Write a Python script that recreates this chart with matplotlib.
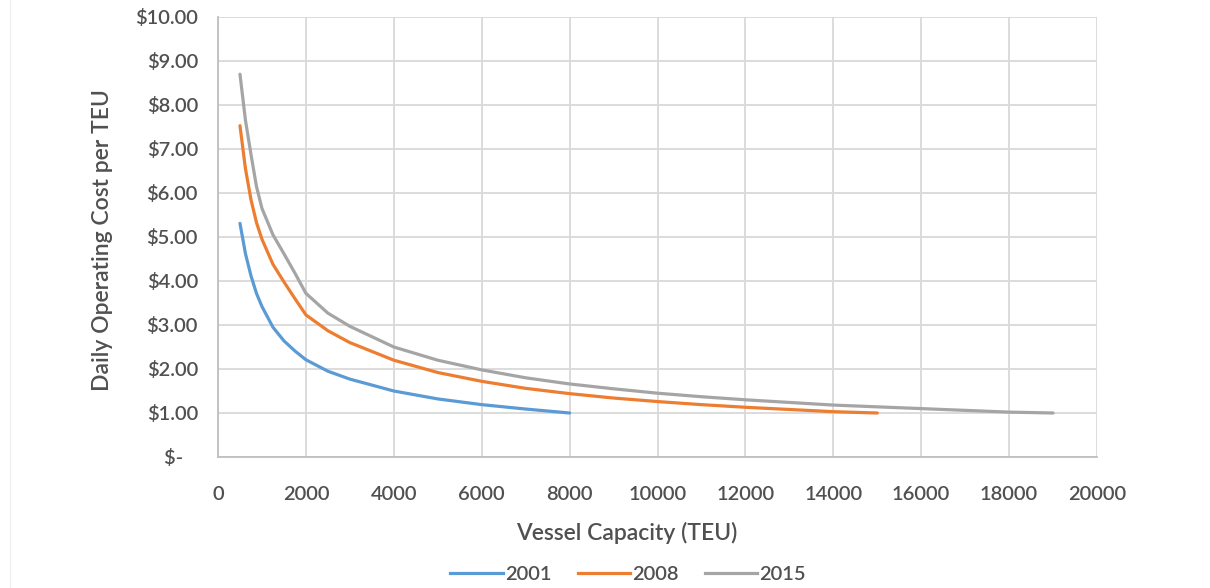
import matplotlib
matplotlib.use("Agg")
import matplotlib.pyplot as plt
from matplotlib.ticker import FuncFormatter, MultipleLocator
from matplotlib.lines import Line2D

# Vessel capacity (TEU) and daily operating cost per TEU (USD)
teu_2001 = [500, 625, 750, 875, 1000, 1250, 1500, 1750, 2000, 2500, 3000, 4000,
            5000, 6000, 7000, 8000]
cost_2001 = [5.31, 4.62, 4.12, 3.72, 3.42, 2.95, 2.64, 2.41, 2.21, 1.95, 1.77, 1.50,
             1.32, 1.19, 1.09, 1.00]

teu_2008 = [500, 625, 750, 875, 1000, 1250, 1500, 1750, 2000, 2500, 3000, 4000,
            5000, 6000, 7000, 8000, 9000, 10000, 11000, 12000, 13000, 14000, 15000]
cost_2008 = [7.53, 6.55, 5.85, 5.33, 4.95, 4.38, 3.98, 3.60, 3.23, 2.87, 2.60, 2.20,
             1.92, 1.72, 1.56, 1.44, 1.34, 1.26, 1.19, 1.13, 1.08, 1.03, 1.00]

teu_2015 = [500, 625, 750, 875, 1000, 1250, 1500, 1750, 2000, 2500, 3000, 4000,
            5000, 6000, 7000, 8000, 9000, 10000, 11000, 12000, 13000, 14000, 15000,
            16000, 17000, 18000, 19000]
cost_2015 = [8.70, 7.65, 6.88, 6.15, 5.65, 5.05, 4.62, 4.18, 3.72, 3.27, 2.97, 2.50,
             2.20, 1.98, 1.80, 1.66, 1.55, 1.45, 1.37, 1.30, 1.24, 1.18, 1.14,
             1.10, 1.06, 1.02, 1.00]

series_labels = ["2001", "2008", "2015"]
series_colors = ["#5B9BD5", "#ED7D31", "#A5A5A5"]

text_color = "#505050"
grid_color = "#D9D9D9"

plt.rcParams["font.family"] = ["Lato", "DejaVu Sans"]
plt.rcParams["font.weight"] = "semibold"

fig = plt.figure(figsize=(12.10, 5.88), dpi=100)
ax = fig.add_axes([218 / 1210, 1 - 457 / 588, (1097 - 218) / 1210, (457 - 17) / 588])

for x, y, lab, col in zip([teu_2001, teu_2008, teu_2015],
                          [cost_2001, cost_2008, cost_2015],
                          series_labels, series_colors):
    ax.plot(x, y, color=col, lw=2.3, label=lab, solid_capstyle="round",
            solid_joinstyle="round", zorder=3)

ax.set_xlim(0, 20000)
ax.set_ylim(0, 10)
ax.xaxis.set_major_locator(MultipleLocator(2000))
ax.yaxis.set_major_locator(MultipleLocator(1))


def money(v, pos):
    if abs(v) < 1e-9:
        return "$-   "
    return f"${v:.2f}"


ax.yaxis.set_major_formatter(FuncFormatter(money))
ax.xaxis.set_major_formatter(FuncFormatter(lambda v, p: f"{int(v)}"))

ax.grid(True, color=grid_color, lw=1.3, zorder=0)
ax.set_axisbelow(True)
for side in ["top", "right"]:
    ax.spines[side].set_visible(False)
for side in ["left", "bottom"]:
    ax.spines[side].set_color("#BFBFBF")
    ax.spines[side].set_linewidth(1.3)

ax.tick_params(axis="both", length=0, labelsize=14.5, labelcolor=text_color)
ax.tick_params(axis="y", pad=14.5)
ax.tick_params(axis="x", pad=21)

# axis titles
fig.text(627 / 1210, 1 - 533 / 588, "Vessel Capacity (TEU)", fontsize=16.5,
         color=text_color, ha="center", va="center")
fig.text(103 / 1210, 1 - 240 / 588, "Daily Operating Cost per TEU", fontsize=16.5,
         color=text_color, ha="center", va="center", rotation=90)

handles = [Line2D([], [], color=c, lw=2.3) for c in series_colors]
fig.legend(handles, series_labels, loc="center", bbox_to_anchor=(628 / 1210, 1 - 574 / 588),
           ncol=3, frameon=False, fontsize=14.5, labelcolor=text_color,
           handlelength=2.6, handletextpad=0.1, columnspacing=1.3)

# faint chart-area edge on the left
fig.add_artist(Line2D([10 / 1210, 10 / 1210], [0, 1], color="#F0F0F0", lw=1,
                      transform=fig.transFigure))

fig.savefig("out.png", dpi=100, facecolor="white")
